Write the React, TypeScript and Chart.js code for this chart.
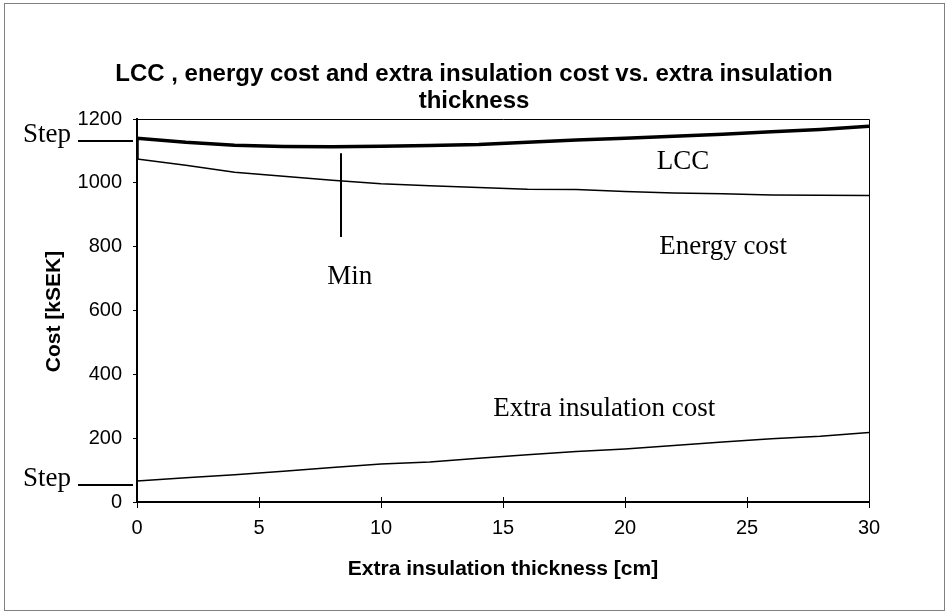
import React, { useEffect, useRef } from "react";
import { Chart, registerables } from "chart.js";

Chart.register(...registerables);

// ---- data ----
const thickness = [0, 2, 4, 6, 8, 10, 12, 14, 16, 18, 20, 22, 24, 26, 28, 30];
const lccValues = [1140, 1127, 1118, 1114, 1113, 1115, 1117, 1120, 1127, 1134, 1140, 1146, 1152, 1160, 1167, 1177];
const energyValues = [1075, 1055, 1033, 1021, 1008, 997, 991, 985, 980, 979, 973, 968, 966, 962, 961, 960];
const insulationValues = [66, 76, 85, 96, 108, 119, 125, 137, 148, 158, 166, 177, 188, 198, 206, 218];
const xTickValues = [0, 5, 10, 15, 20, 25, 30];
const yTickValues = [0, 200, 400, 600, 800, 1000, 1200];

const titleLines = ["LCC , energy cost and extra insulation cost vs. extra insulation", "thickness"];
const xTitle = "Extra insulation thickness [cm]";
const yTitle = "Cost [kSEK]";

// in-plot text labels (data coordinates of left/baseline)
const labelTexts = ["LCC", "Energy cost", "Min", "Extra insulation cost"];
const labelX = [21.3, 21.4, 7.8, 14.6];
const labelY = [1044, 777, 683, 269];
// Min marker (data coords)
const minMarkerX = 8.35;
const minMarkerFrom = 830;
const minMarkerTo = 1093;
// step markers (cost levels)
const stepLevels = [1131, 52];

const SANS = '"Liberation Sans", Arial, sans-serif';
const SERIF = '"Liberation Serif", "Times New Roman", serif';

const decorPlugin = {
  id: "decor",
  afterDraw(chart: any) {
    const { ctx, chartArea: a } = chart;
    const xs = chart.scales.x;
    const ys = chart.scales.y;
    ctx.save();
    // outer border
    ctx.strokeStyle = "#808080";
    ctx.lineWidth = 1;
    ctx.strokeRect(4.5, 3.5, 940, 607);

    // top / right frame of plot
    ctx.strokeStyle = "#000";
    ctx.lineWidth = 1;
    ctx.beginPath();
    ctx.moveTo(a.left, a.top + 0.5);
    ctx.lineTo(a.right + 0.5, a.top + 0.5);
    ctx.lineTo(a.right + 0.5, a.bottom);
    ctx.stroke();

    // inner part of x ticks
    ctx.beginPath();
    xTickValues.forEach((v) => {
      const px = Math.round(xs.getPixelForValue(v)) + 0.5;
      ctx.moveTo(px, a.bottom - 5);
      ctx.lineTo(px, a.bottom);
    });
    ctx.stroke();

    // title
    ctx.fillStyle = "#000";
    ctx.textAlign = "center";
    ctx.textBaseline = "middle";
    ctx.font = `bold 24px ${SANS}`;
    ctx.fillText(titleLines[0], 474, 74);
    ctx.fillText(titleLines[1], 474, 101);

    // axis titles
    ctx.font = `bold 21px ${SANS}`;
    ctx.fillText(xTitle, (a.left + a.right) / 2, 569);
    ctx.save();
    ctx.translate(54, (a.top + a.bottom) / 2 + 1);
    ctx.rotate(-Math.PI / 2);
    ctx.fillText(yTitle, 0, 0);
    ctx.restore();

    // in-plot labels
    ctx.font = `27px ${SERIF}`;
    ctx.textAlign = "left";
    ctx.textBaseline = "alphabetic";
    labelTexts.forEach((t, i) => {
      ctx.fillText(t, xs.getPixelForValue(labelX[i]), ys.getPixelForValue(labelY[i]));
    });

    // Min marker
    ctx.lineWidth = 2;
    ctx.beginPath();
    const mx = Math.round(xs.getPixelForValue(minMarkerX));
    ctx.moveTo(mx, ys.getPixelForValue(minMarkerFrom));
    ctx.lineTo(mx, ys.getPixelForValue(minMarkerTo));
    ctx.stroke();

    // Step markers
    stepLevels.forEach((lvl) => {
      const py = Math.round(ys.getPixelForValue(lvl));
      ctx.beginPath();
      ctx.lineWidth = 2;
      ctx.moveTo(a.left - 59, py);
      ctx.lineTo(a.left - 4, py);
      ctx.stroke();
      ctx.fillText("Step", a.left - 114, py + 1);
    });
    ctx.restore();
  },
};

export default function App() {
  const ref = useRef<HTMLCanvasElement>(null);
  useEffect(() => {
    document.body.style.margin = "0";
    const lccData = [{ x: thickness[0], y: energyValues[0] }].concat(
      thickness.map((t, i) => ({ x: t, y: lccValues[i] }))
    );
    const chart = new Chart(ref.current as HTMLCanvasElement, {
      type: "scatter",
      data: {
        datasets: [
          {
            label: "LCC",
            data: lccData,
            showLine: true,
            borderColor: "#000",
            borderWidth: 3.5,
            pointRadius: 0,
            tension: 0,
          },
          {
            label: "Energy cost",
            data: thickness.map((t, i) => ({ x: t, y: energyValues[i] })),
            showLine: true,
            borderColor: "#000",
            borderWidth: 1.5,
            pointRadius: 0,
            tension: 0,
          },
          {
            label: "Extra insulation cost",
            data: thickness.map((t, i) => ({ x: t, y: insulationValues[i] })),
            showLine: true,
            borderColor: "#000",
            borderWidth: 1.5,
            pointRadius: 0,
            tension: 0,
          },
        ],
      },
      options: {
        responsive: false,
        animation: false,
        devicePixelRatio: 1,
        layout: { padding: { top: 119, right: 79, left: 0, bottom: 0 } },
        plugins: { legend: { display: false }, title: { display: false }, tooltip: { enabled: false } },
        scales: {
          x: {
            type: "linear",
            min: 0,
            max: 30,
            afterFit: (s: any) => {
              s.height = 112;
            },
            afterBuildTicks: (s: any) => {
              s.ticks = xTickValues.map((v) => ({ value: v }));
            },
            ticks: {
              color: "#000",
              font: { family: SANS, size: 20 },
              padding: 8,
              maxRotation: 0,
              callback: (v: any) => String(v),
            },
            grid: { drawOnChartArea: false, drawTicks: true, tickLength: 6, color: "#000", lineWidth: 1 },
            border: { display: true, color: "#000", width: 2 },
          },
          y: {
            type: "linear",
            min: 0,
            max: 1200,
            afterFit: (s: any) => {
              s.width = 137;
            },
            afterBuildTicks: (s: any) => {
              s.ticks = yTickValues.map((v) => ({ value: v }));
            },
            ticks: {
              color: "#000",
              font: { family: SANS, size: 20 },
              padding: 11,
              callback: (v: any) => String(v),
            },
            grid: { drawOnChartArea: false, drawTicks: true, tickLength: 4, color: "#000", lineWidth: 1 },
            border: { display: true, color: "#000", width: 2 },
          },
        },
      },
      plugins: [decorPlugin],
    } as any);
    return () => chart.destroy();
  }, []);
  return (
    <div style={{ position: "absolute", left: 0, top: 0, width: 948, height: 614, background: "#fff" }}>
      <canvas ref={ref} width={948} height={614} style={{ display: "block" }} />
    </div>
  );
}
